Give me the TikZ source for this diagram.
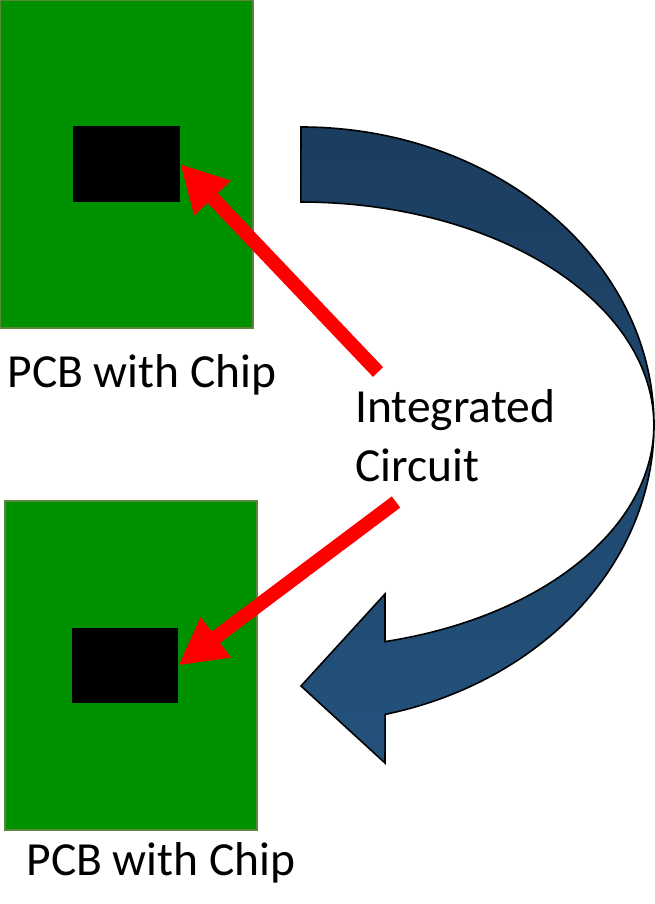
\documentclass[tikz,border=0pt]{standalone}
\usepackage{fontspec}
\setmainfont{Carlito}
\usetikzlibrary{arrows.meta}
\definecolor{pcbgreen}{RGB}{0,145,0}
\definecolor{pcbedge}{RGB}{90,135,60}
\definecolor{bluetop}{RGB}{27,61,95}
\definecolor{bluebot}{RGB}{35,82,124}
\definecolor{redarr}{RGB}{255,0,0}
\tikzset{
  board/.style={fill=pcbgreen, draw=pcbedge, line width=2pt, inner sep=0pt},
  chip/.style={fill=black, inner sep=0pt},
  lbl/.style={font=\fontsize{47.5}{59}\selectfont, inner sep=0pt, text=black},
  redarrow/.style={draw=redarr, line width=14pt, -{Triangle[length=47pt,width=47pt]}},
  bigarrow/.style={top color=bluetop, bottom color=bluebot, draw=black, line width=1.6pt}
}
\begin{document}
\begin{tikzpicture}[x=1pt,y=1pt]
\useasboundingbox (0,0) rectangle (654,904);
% boards
\node[board, minimum width=253pt, minimum height=328pt] (board1) at (126.5,740) {};
\node[board, minimum width=252pt, minimum height=329pt] (board2) at (131,238.5) {};
% chips
\node[chip, minimum width=107pt, minimum height=76pt] (chip1) at (126.5,740) {};
\node[chip, minimum width=106pt, minimum height=75pt] (chip2) at (125,238.5) {};
% labels
\node[lbl, anchor=base] (lab1) at (142,516) {PCB with Chip};
\node[lbl, anchor=base] (lab2) at (161,28) {PCB with Chip};
\node[lbl, anchor=base west, align=left] (ic) at (355,422) {Integrated\\Circuit};
% red arrows
\coordinate (t1) at (378,532);
\coordinate (t2) at (396,402);
\draw[redarrow] (t1) -- (chip1.east);
\draw[redarrow] (t2) -- (chip2.east);
% curved blue arrow
\shadedraw[bigarrow] (301,777)
  arc[start angle=90, end angle=-76.2, x radius=353, y radius=298]
  -- (385,141) -- (301,218) -- (385,310) -- (385,262.4)
  arc[start angle=-76.2, end angle=90, x radius=353, y radius=223]
  -- cycle;
\end{tikzpicture}
\end{document}
